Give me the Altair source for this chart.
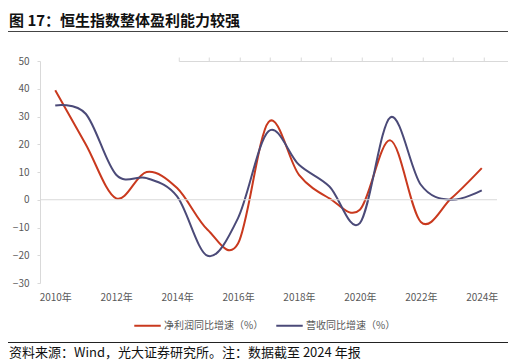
import altair as alt
import pandas as pd

years = list(range(2010, 2025))
profit = [39.5, 20.0, 0.5, 10.0, 4.2, -10.8, -15.8, 28.0, 9.0, 0.5, -3.6, 21.4, -8.0, 0.5, 11.4]
revenue = [34.0, 31.0, 9.0, 7.8, 1.2, -20.2, -6.6, 24.7, 12.6, 4.8, -8.4, 29.7, 5.4, 0.0, 3.4]
series_names = ["净利润同比增速（%）", "营收同比增速（%）"]
colors = ["#C9391E", "#4B4A78"]
y_ticks = [-30, -20, -10, 0, 10, 20, 30, 40, 50]
x_label_years = [2010, 2012, 2014, 2016, 2018, 2020, 2022, 2024]
band_edges = [2009.5 + i for i in range(16)]
title_text = "图 17：恒生指数整体盈利能力较强"
source_text = "资料来源：Wind，光大证券研究所。注：数据截至 2024 年报"

FONT = "Noto Sans CJK SC"
W, H = 457, 222
GRAY = "#d9d9d9"
LABEL = "#595959"

df = pd.DataFrame({
    "year": years + years,
    "value": profit + revenue,
    "series": [series_names[0]] * len(years) + [series_names[1]] * len(years),
})

xscale = alt.Scale(domain=[2009.5, 2024.5], nice=False, zero=False)
yscale = alt.Scale(domain=[-30, 50], nice=False)

lines = alt.Chart(df).mark_line(interpolate="cardinal", strokeWidth=2).encode(
    x=alt.X("year:Q", scale=xscale, axis=alt.Axis(
        values=x_label_years, labelExpr="datum.value + '年'", domain=False, ticks=False,
        grid=False, title=None, labelPadding=9, labelColor=LABEL, labelFontSize=10,
        labelFont=FONT, labelOverlap=False)),
    y=alt.Y("value:Q", scale=yscale, axis=alt.Axis(
        values=y_ticks, title=None, grid=False, domainColor=GRAY, tickColor=GRAY,
        tickSize=3, labelPadding=8, labelColor=LABEL, labelFontSize=10, labelFont=FONT,
        labelOverlap=False, labelBound=False)),
    color=alt.Color("series:N", scale=alt.Scale(domain=series_names, range=colors),
                    legend=alt.Legend(
                        title=None, orient="none", direction="horizontal",
                        legendX=93, legendY=250, symbolType="stroke", symbolSize=700,
                        symbolStrokeWidth=2, labelFont=FONT, labelFontSize=10,
                        labelColor=LABEL, labelOffset=2, columnPadding=8)),
)

zero_df = pd.DataFrame({"x0": [band_edges[0]], "x1": [band_edges[-1]], "y0": [0]})
zero = alt.Chart(zero_df).mark_rule(color=GRAY, strokeWidth=1).encode(
    x=alt.X("x0:Q", scale=xscale, axis=alt.Axis(
        orient="top", position=H * 50 / 80, values=band_edges, labels=False,
        domain=True, domainColor=GRAY, ticks=True, tickColor=GRAY, tickSize=4,
        grid=False, title=None)),
    x2="x1:Q",
    y=alt.Y("y0:Q", scale=yscale, axis=None),
)

one = pd.DataFrame({"t": [0]})
title_mark = alt.Chart(pd.DataFrame({"t": [title_text]})).mark_text(
    align="left", baseline="middle", font=FONT, fontSize=15, fontWeight="bold", color="#111111"
).encode(x=alt.value(-31), y=alt.value(-40.5), text="t:N")
source_mark = alt.Chart(pd.DataFrame({"t": [source_text]})).mark_text(
    align="left", baseline="middle", font=FONT, fontSize=13, color="#111111"
).encode(x=alt.value(-31), y=alt.value(292), text="t:N")
rule_top = alt.Chart(one).mark_rule(color="#444444", strokeWidth=1).encode(
    x=alt.value(-32), x2=alt.value(470), y=alt.value(-29.5))
rule_bot = alt.Chart(one).mark_rule(color="#222222", strokeWidth=1).encode(
    x=alt.value(-32), x2=alt.value(470), y=alt.value(281.5))

chart = alt.layer(lines, zero, title_mark, source_mark, rule_top, rule_bot).resolve_axis(
    x="independent", y="independent"
).properties(
    width=W, height=H,
    autosize=alt.AutoSizeParams(type="none"),
    padding={"left": 32, "top": 53, "right": 11, "bottom": 81},
).configure_view(stroke=None)

chart.save("out.html", embed_options={"renderer": "svg", "actions": False})
